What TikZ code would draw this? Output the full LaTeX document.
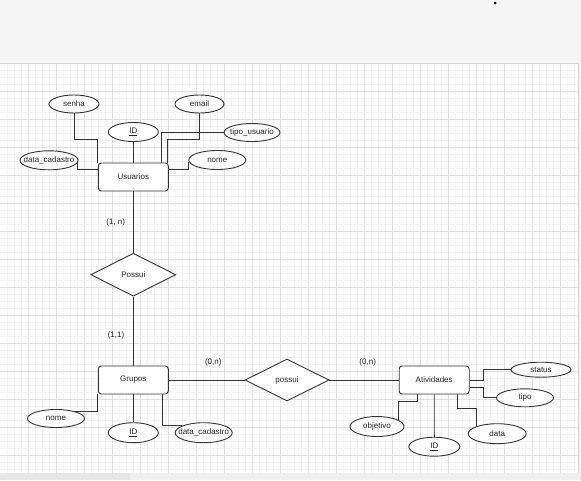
\documentclass[tikz,border=0pt]{standalone}
\usepackage{fontspec}
\setmainfont{Liberation Sans}
\usetikzlibrary{shapes.geometric}

\definecolor{bandgray}{HTML}{F5F5F5}
\definecolor{bordergray}{HTML}{D4D4D4}
\definecolor{majorgrid}{HTML}{E0E0E0}
\definecolor{minorgrid}{HTML}{F3F3F3}
\definecolor{inkline}{HTML}{333333}
\definecolor{inktext}{HTML}{222222}
\definecolor{barleft}{HTML}{E6E6E6}
\definecolor{barright}{HTML}{F0F0F0}

% label that does not widen its shape
\newcommand\lbl[1]{\makebox[0pt]{#1}}

\tikzset{
  minorline/.style={draw=minorgrid, line width=0.6pt},
  majorline/.style={draw=majorgrid, line width=0.8pt},
  entity/.style={draw=inkline, line width=0.9pt, fill=white, rounded corners=3pt,
    minimum width=70pt, minimum height=28pt, inner sep=0pt, text=inktext},
  attr/.style={ellipse, draw=inkline, line width=0.9pt, fill=white, inner sep=0pt, text=inktext},
  rel/.style={diamond, draw=inkline, line width=0.9pt, fill=white, inner sep=0pt,
    shape aspect=2, text=inktext},
  link/.style={draw=inkline, line width=0.9pt},
  card/.style={text=inktext, inner sep=0pt}
}

\begin{document}
\begin{tikzpicture}[x=1pt, y=-1pt, font=\fontsize{8pt}{9pt}\selectfont]
\useasboundingbox (0,0) rectangle (581,480);

% canvas background
\fill[bandgray] (0,0) rectangle (581,480);
\fill[white] (0,63.3) rectangle (578,473.3);
\foreach \i in {1,...,82} {\draw[minorline] (\i*7,63.3) -- (\i*7,473.3);}
\foreach \j in {1,...,58} {\draw[minorline] (0,63.3+\j*7) -- (578,63.3+\j*7);}
\foreach \i in {1,...,20} {\draw[majorline] (\i*28,63.3) -- (\i*28,473.3);}
\foreach \j in {1,...,14} {\draw[majorline] (0,63.3+\j*28) -- (578,63.3+\j*28);}
\draw[bordergray, line width=0.8pt] (0,63.3) -- (578,63.3) -- (578,473.3);
\fill[barleft] (0,473.3) rectangle (130,480);
\fill[barright] (130,473.3) rectangle (581,480);
\fill[black] (495,3) circle (1.5);

% entities
\node[entity] (uusr) at (133.3,177) {Usuarios};
\node[entity] (ggrp) at (133.3,380) {Grupos};
\node[entity] (aatv) at (434.2,380) {Atividades};

% relationships
\node[rel, minimum width=85pt, minimum height=43pt] (rposs1) at (133.3,274.7) {\lbl{Possui}};
\node[rel, minimum width=84pt, minimum height=42pt] (rposs2) at (287,380) {\lbl{possui}};

% attributes of Usuarios
\node[attr, minimum width=50pt, minimum height=18pt] (usenha) at (74,104) {\lbl{senha}};
\node[attr, minimum width=49pt, minimum height=18pt] (uemail) at (199.5,104) {\lbl{email}};
\node[attr, minimum width=50pt, minimum height=19pt] (uid) at (133.3,132) {\lbl{\underline{ID}}};
\node[attr, minimum width=56pt, minimum height=18pt] (utipo) at (252,132.5) {\lbl{tipo\_usuario}};
\node[attr, minimum width=58pt, minimum height=19pt] (udata) at (49,160.3) {\lbl{data\_cadastro}};
\node[attr, minimum width=57pt, minimum height=19pt] (unome) at (217.3,160) {\lbl{nome}};

% attributes of Grupos
\node[attr, minimum width=57pt, minimum height=18pt] (gnome) at (56,418.5) {\lbl{nome}};
\node[attr, minimum width=50pt, minimum height=20pt] (gid) at (133.3,432.7) {\lbl{\underline{ID}}};
\node[attr, minimum width=57pt, minimum height=20pt] (gdata) at (203.7,432.7) {\lbl{data\_cadastro}};

% attributes of Atividades
\node[attr, minimum width=60pt, minimum height=15pt] (astatus) at (541,369.7) {\lbl{status}};
\node[attr, minimum width=57pt, minimum height=18pt] (atipo) at (525,397.8) {\lbl{tipo}};
\node[attr, minimum width=54pt, minimum height=20pt] (aobj) at (377,426.5) {\lbl{objetivo}};
\node[attr, minimum width=51pt, minimum height=19pt] (aid) at (434.3,446.7) {\lbl{\underline{ID}}};
\node[attr, minimum width=58pt, minimum height=20pt] (adata) at (497.2,433.7) {\lbl{data}};

% cardinalities
\node[card] (c1n) at (115.7,222.7) {(1, n)};
\node[card] (c11) at (116,335) {(1,1)};
\node[card] (c0nl) at (213.3,362.7) {(0,n)};
\node[card] (c0nr) at (367.7,362.7) {(0,n)};

% relationship lines
\draw[link] (uusr.south) -- (rposs1.north);
\draw[link] (rposs1.south) -- (ggrp.north);
\draw[link] (ggrp.east) -- (rposs2.west);
\draw[link] (rposs2.east) -- (aatv.west);

% Usuarios attribute lines
\draw[link] (usenha.south) -- (usenha.south |- 0,139.3) -| (uusr.north west);
\draw[link] (uemail.south) -- (uemail.south |- 0,139.3) -| ([xshift=-1.7pt]uusr.north east);
\draw[link] (utipo.west) -| ([xshift=-7.3pt]uusr.north east);
\draw[link] (uid.south) -- (uusr.north);
\draw[link] (udata.-6) |- ([yshift=7.7pt]uusr.west);
\draw[link] (unome.184) |- ([yshift=7.7pt]uusr.east);

% Grupos attribute lines
\draw[link] (gnome.22) -| (ggrp.south west);
\draw[link] (ggrp.south) -- (gid.north);
\draw[link] ([xshift=-6.6pt]ggrp.south east) |- (gdata.162);

% Atividades attribute lines
\draw[link] (aatv.east) -- ++(14,0) |- (astatus.west);
\draw[link] ([yshift=-7.3pt]aatv.east) -- ++(14,0) |- (atipo.west);
\draw[link] ([xshift=-16.9pt]aatv.south) -- ++(0,6.7) -| (aobj.16);
\draw[link] (aatv.south) -- (aid.north);
\draw[link] ([xshift=23.5pt]aatv.south) -- ++(0,14.3) -| (adata.160);
\end{tikzpicture}
\end{document}
